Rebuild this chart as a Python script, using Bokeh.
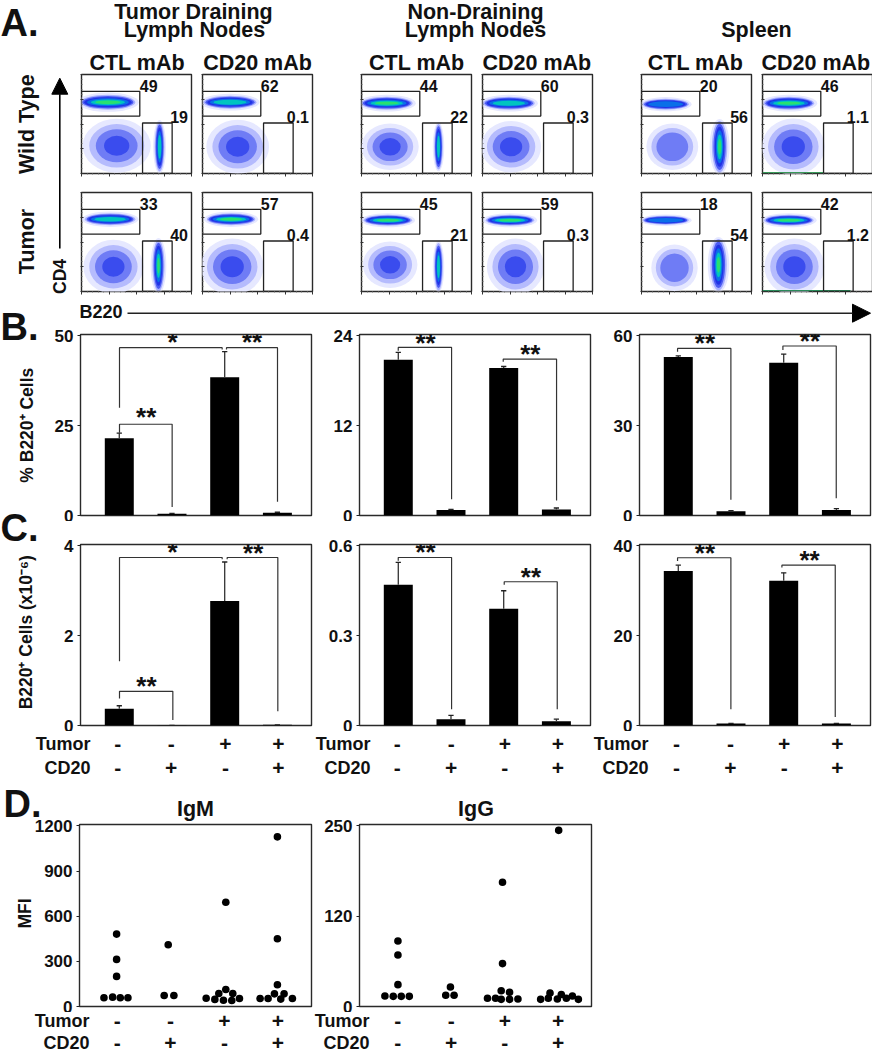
from math import pi
from bokeh.plotting import figure
from bokeh.models import Range1d, FixedTicker, Arrow, NormalHead
from bokeh.core.properties import value
from bokeh.embed import file_html
from bokeh.resources import INLINE

FONT = "Liberation Sans"
INK = "#111111"

# ---------- flow cytometry: percentages and estimated population shapes (axis units 0-100) ----------
gate_upper_pct = [49, 62, 33, 57, 44, 60, 45, 59, 20, 46, 18, 42]
gate_lower_pct = ["19", "0.1", "40", "0.4", "22", "0.3", "21", "0.3", "56", "1.1", "54", "1.2"]
# cx, cy, width, height, deepest colour level
band = [(24, 72, 50, 15, 6), (25, 72, 48, 13, 5), (26, 73, 46, 12, 5), (26, 73, 44, 12, 6),
        (23, 71, 47, 13, 6), (24, 71, 47, 13, 5), (24, 72, 44, 11, 6), (25, 72, 44, 11, 6),
        (22, 70, 42, 11, 4), (24, 71, 46, 13, 6), (22, 72, 42, 9, 4), (24, 72, 45, 11, 6)]
blob = [(32, 28, 50, 44, 3), (32, 27, 46, 44, 3), (29, 25, 44, 44, 3), (27, 25, 46, 46, 3),
        (26, 27, 42, 38, 3), (26, 27, 44, 42, 3), (26, 27, 40, 38, 3), (30, 25, 42, 46, 3),
        (28, 27, 38, 38, 2), (28, 27, 46, 46, 3), (30, 24, 34, 38, 2), (29, 25, 44, 46, 3)]
bcell = [(71, 27, 9, 50, 5), None, (70, 26, 11, 52, 6), None,
         (70, 27, 8, 46, 5), None, (70, 25, 8, 48, 5), None,
         (71, 27, 14, 52, 6), None, (70, 27, 15, 52, 6), None]
# green edge seen along the bottom axis of two spleen panels: panel index, last x
edge_panels = [(9, 55), (11, 80)]
edge_colors = ["#3a9a5a", "#2a8a5a"]
band_scale_x = [1.12, 1.0, 0.93, 0.86, 0.76, 0.62, 0.46]
band_scale_y = [1.3, 1.0, 0.84, 0.68, 0.52, 0.38, 0.24]
blob_scale_x = [1.24, 1.0, 0.76, 0.46]
blob_scale_y = [1.24, 1.0, 0.76, 0.46]
cell_scale_x = [1.3, 1.0, 0.8, 0.62, 0.48, 0.34, 0.2]
cell_scale_y = [1.08, 1.0, 0.9, 0.78, 0.64, 0.48, 0.3]
level_color = ["#e6e8ff", "#a9b1ff", "#4c5bf2", "#1f33e6", "#0a6fe8", "#00c4c0", "#28e070"]
blob_color = ["#e6e8ff", "#b5bbfd", "#6f7cf5", "#3a4cee"]
gate_x0 = [0, 55.5]
gate_x1 = [53, 82.4]
gate_y0 = [58, 0]
gate_y1 = [83, 51]

# ---------- bars ----------
conditions = [1, 2, 3, 4]
tumor_signs = ["-", "-", "+", "+"]
cd20_signs = ["-", "+", "-", "+"]
pct_dln = [21.5, 0.5, 38.5, 0.8]
pct_dln_err = [1.4, 0.1, 7.1, 0.1]
pct_ndln = [20.8, 0.75, 19.7, 0.8]
pct_ndln_err = [1.0, 0.05, 0.2, 0.2]
pct_spl = [52.9, 1.4, 51.0, 1.8]
pct_spl_err = [0.4, 0.2, 2.9, 0.5]
num_dln = [0.375, 0.005, 2.77, 0.015]
num_dln_err = [0.065, 0.0, 0.87, 0.0]
num_ndln = [0.47, 0.021, 0.39, 0.014]
num_ndln_err = [0.075, 0.013, 0.06, 0.007]
num_spl = [34.4, 0.44, 32.2, 0.44]
num_spl_err = [1.3, 0.05, 1.8, 0.05]
# x0, x1, top, left leg end, right leg end
br_pct_dln = [(1.004, 2.003, 25.4, 23.0, 2.4), (1.004, 2.952, 46.7, 30.0, 46.2), (3.034, 4.002, 46.7, 46.2, 3.8)]
br_pct_ndln = [(0.999, 2.011, 22.45, 22.0, 2.16), (2.991, 4.003, 20.9, 20.55, 2.0)]
br_pct_spl = [(0.986, 1.998, 55.8, 54.7, 5.3), (2.985, 3.997, 56.6, 55.3, 5.8)]
br_num_dln = [(1.004, 2.016, 0.76, 0.6, 0.12), (1.004, 2.952, 3.74, 1.43, 3.7), (3.047, 4.008, 3.74, 3.7, 0.32)]
br_num_ndln = [(0.999, 2.011, 0.561, 0.55, 0.054), (3.01, 4.016, 0.48, 0.47, 0.054)]
br_num_spl = [(0.986, 1.998, 37.35, 36.6, 3.6), (2.966, 3.978, 35.7, 35.15, 1.9)]
# x, y, text
st_pct_dln = [(1.51, 27.4, "**"), (2.01, 48.3, "*"), (3.52, 48.2, "**")]
st_pct_ndln = [(1.517, 23.1, "**"), (3.504, 21.6, "**")]
st_pct_spl = [(1.505, 57.5, "**"), (3.497, 58.2, "**")]
st_num_dln = [(1.516, 0.89, "**"), (2.01, 3.87, "*"), (3.54, 3.85, "**")]
st_num_ndln = [(1.517, 0.578, "**"), (3.516, 0.497, "**")]
st_num_spl = [(1.505, 38.5, "**"), (3.49, 36.8, "**")]

# ---------- MFI dots ----------
igm_x = [0.965, 0.965, 0.965, 0.726, 0.89, 1.034, 1.179, 1.94, 1.864, 2.047,
         3.028, 3.028, 2.896, 3.16, 2.657, 2.821, 2.984, 3.141, 3.286,
         4.003, 4.003, 4.003, 3.947, 4.129, 3.676, 3.827, 4.066, 4.286]
igm_y = [481, 313, 200, 58, 62, 58, 58, 410, 73, 73,
         692, 113, 86, 86, 55, 47, 42, 40, 53,
         1127, 450, 144, 84, 84, 53, 53, 49, 53]
igg_x = [0.99, 0.99, 0.99, 0.744, 0.902, 1.053, 1.205, 1.982, 1.893, 2.051,
         2.966, 2.966, 2.941, 3.099, 2.682, 2.834, 2.941, 3.099, 3.257,
         4.027, 3.863, 4.077, 4.286, 3.686, 3.831, 4.002, 4.172, 4.399]
igg_y = [87, 68.5, 29, 14, 13.5, 13.5, 13.5, 26, 15, 15,
         165, 57, 21, 19, 11, 11, 9.5, 9.5, 10,
         234, 18, 16, 14, 9.5, 11, 10, 11, 9.5]

X_RANGE = (0.264, 4.647)
TOP_PAD = 1.0074


def place(p, left, top):
    p.styles = {"position": "absolute", "left": f"{left}px", "top": f"{top}px"}
    return p


def base_fig(l, t, r, b, xr, yr, bl, br_, bt, bb):
    p = figure(width=r - l + bl + br_, height=b - t + bt + bb, x_range=Range1d(*xr), y_range=Range1d(*yr),
               toolbar_location=None, output_backend="svg", min_border_left=bl, min_border_right=br_,
               min_border_top=bt, min_border_bottom=bb, background_fill_alpha=0, border_fill_alpha=0)
    p.grid.visible = False
    p.outline_line_color = "#2a2a2a"
    p.outline_line_width = 1.4
    place(p, l - bl, t - bt)
    return p


def draw_population(p, pop, sx, sy, colors):
    cx, cy, w, h, peak = pop
    for k in range(min(peak + 1, len(colors))):
        p.ellipse(x=[cx], y=[cy], width=[w * sx[k]], height=[h * sy[k]], fill_color=colors[k], line_color=None)


def flow_panel(l, t, idx):
    p = base_fig(l, t, l + 110, t + 99, (0, 100), (0, 100), 8, 4, 4, 10)
    draw_population(p, blob[idx], blob_scale_x, blob_scale_y, blob_color)
    if bcell[idx] is not None:
        draw_population(p, bcell[idx], cell_scale_x, cell_scale_y, level_color)
    draw_population(p, band[idx], band_scale_x, band_scale_y, level_color)
    for (panel_no, end_x), color in zip(edge_panels, edge_colors):
        if panel_no == idx:
            p.segment(x0=[0], x1=[end_x], y0=[0.8], y1=[0.8], line_color=color, line_width=1.2)
    p.quad(left=gate_x0, right=gate_x1, bottom=gate_y0, top=gate_y1, fill_color=None,
           line_color="#222222", line_width=1.3)
    p.text(x=[53], y=[88], text=[str(gate_upper_pct[idx])], text_font=value(FONT), text_font_style="bold",
           text_font_size="16px", text_baseline="middle", text_align="left", text_color=INK)
    p.text(x=[96.8], y=[57.5], text=[gate_lower_pct[idx]], text_font=value(FONT), text_font_style="bold",
           text_font_size="16px", text_baseline="middle", text_align="right", text_color=INK)
    ticks = [0, 25, 50, 75, 100]
    for ax in (p.xaxis[0], p.yaxis[0]):
        ax.ticker = FixedTicker(ticks=ticks, minor_ticks=[5, 10, 15, 20, 30, 35, 40, 45, 55, 60, 65, 70, 80, 85, 90, 95])
        ax.major_label_overrides = {t: "" for t in ticks}
        ax.major_label_text_font_size = "1px"
        ax.major_label_standoff = 0
        ax.axis_line_color = None
        ax.major_tick_line_color = "#333333"
        ax.minor_tick_line_color = "#777777"
    p.xaxis.major_tick_in = 0
    p.xaxis.major_tick_out = 3
    p.xaxis.minor_tick_in = 0
    p.xaxis.minor_tick_out = 1
    p.yaxis.major_tick_in = 2
    p.yaxis.major_tick_out = 1
    p.yaxis.minor_tick_in = 1
    p.yaxis.minor_tick_out = 0
    return p


def style_value_axis(p, ticks, labels=None):
    ax = p.yaxis[0]
    ax.ticker = FixedTicker(ticks=ticks)
    ax.minor_tick_line_color = None
    ax.axis_line_color = None
    ax.major_tick_in = 0
    ax.major_tick_out = 3
    ax.major_tick_line_color = "#222222"
    ax.major_label_text_font = FONT
    ax.major_label_text_font_style = "bold"
    ax.major_label_text_font_size = "17px"
    ax.major_label_text_color = INK
    ax.major_label_standoff = 4
    ax.major_label_overrides = labels or {t: f"{t:g}" for t in ticks}
    p.xaxis.visible = False


def bar_panel(l, t, vals, errs, brackets, stars, ymax, ticks):
    p = base_fig(l, t, l + 231, t + 181, X_RANGE, (0, ymax * TOP_PAD), 62, 4, 6, 6)
    p.vbar(x=conditions, top=vals, width=0.55, fill_color="#000000", line_color=None)
    tops = [v + e for v, e in zip(vals, errs)]
    p.segment(x0=conditions, x1=conditions, y0=vals, y1=tops, line_color="#333333", line_width=1.3)
    p.segment(x0=[c - 0.05 for c in conditions], x1=[c + 0.05 for c in conditions], y0=tops, y1=tops,
              line_color="#222222", line_width=1.3)
    for x0, x1, top, yl, yr in brackets:
        p.line(x=[x0, x0, x1, x1], y=[yl, top, top, yr], line_color="#333333", line_width=1.2)
    p.text(x=[s[0] for s in stars], y=[s[1] for s in stars], text=[s[2] for s in stars], text_font=value(FONT),
           text_font_style="bold", text_font_size="26px", text_align="center", text_baseline="alphabetic",
           y_offset=0, text_color=INK)
    style_value_axis(p, ticks)
    return p


def dot_panel(l, t, xs, ys, ymax, ticks, labels=None):
    p = base_fig(l, t, l + 232, t + 182, X_RANGE, (0, ymax * TOP_PAD), 62, 4, 6, 6)
    p.scatter(x=xs, y=ys, size=7.6, fill_color="#000000", line_color=None)
    style_value_axis(p, ticks, labels)
    return p


# ---------- canvas with the free-standing labels ----------
canvas = figure(width=872, height=1050, x_range=Range1d(0, 872), y_range=Range1d(1050, 0), x_axis_type=None,
                y_axis_type=None, toolbar_location=None, output_backend="svg", min_border=0)
canvas.grid.visible = False
canvas.outline_line_color = None
place(canvas, 0, 0)


def label(x, y, s, size=21.5, align="center", angle=0.0):
    canvas.text(x=[x], y=[y], text=[s], text_font=value(FONT), text_font_style="bold", text_font_size=f"{size}px",
                text_align=align, text_baseline="middle", angle=angle, text_color=INK)


for x, y, s in [(0, 22, "A."), (0, 326, "B."), (0, 527, "C."), (3, 803, "D.")]:
    label(x, y, s, size=38, align="left")
for x, y, s in [(193, 11.5, "Tumor Draining"), (194, 29, "Lymph Nodes"), (475, 11.5, "Non-Draining"),
                (475, 29, "Lymph Nodes"), (756, 29, "Spleen"), (195, 808, "IgM"), (475.5, 808, "IgG")]:
    label(x, y, s)
for x, s in [(136.7, "CTL mAb"), (257, "CD20 mAb"), (416.3, "CTL mAb"), (536.3, "CD20 mAb"), (695, "CTL mAb"),
             (815.3, "CD20 mAb")]:
    label(x, 62.5, s)
label(26, 123.7, "Wild Type", angle=pi / 2)
label(26, 241, "Tumor", angle=pi / 2)
label(59, 276, "CD4", size=17.5, angle=pi / 2)
label(79, 311, "B220", size=18, align="left")
label(26, 424.7, "% B220\u207a Cells", size=17.5, angle=pi / 2)
label(25, 631.7, "B220\u207a Cells (x10\u207b\u2076)", size=17.5, angle=pi / 2)
label(24, 913, "MFI", size=17.5, angle=pi / 2)

canvas.add_layout(Arrow(end=NormalHead(size=16, fill_color="#000000", line_color="#000000"), x_start=59.3, y_start=248,
                        x_end=59.3, y_end=77.7, line_width=1.6, line_color="#000000"))
canvas.add_layout(Arrow(end=NormalHead(size=18, fill_color="#000000", line_color="#000000"), x_start=127, y_start=312.7,
                        x_end=870, y_end=312.7, line_width=1.6, line_color="#222222"))

sign_cols = [(90, [117.3, 170.7, 225, 278]), (370, [396.7, 450.7, 504.3, 557.3]), (648, [676, 730, 783.7, 837])]
for right, xs in sign_cols:
    label(right, 743, "Tumor", size=18, align="right")
    label(right, 767, "CD20", size=18, align="right")
    for x, a, b in zip(xs, tumor_signs, cd20_signs):
        label(x, 743, a, size=21)
        label(x, 767, b, size=21)
for right, xs in [(89, [116.7, 170, 224, 277.3]), (369, [397.3, 450.7, 504.3, 557.7])]:
    label(right, 1020, "Tumor", size=18, align="right")
    label(right, 1042, "CD20", size=18, align="right")
    for x, a, b in zip(xs, tumor_signs, cd20_signs):
        label(x, 1020, a, size=21)
        label(x, 1042, b, size=21)

# ---------- panels ----------
flow_lefts = [81, 202, 361, 482, 641, 762]
roots = [canvas]
for organ_i in range(3):
    for row_i, top in enumerate([74, 192]):
        for mab_i in range(2):
            idx = organ_i * 4 + row_i * 2 + mab_i
            roots.append(flow_panel(flow_lefts[organ_i * 2 + mab_i], top, idx))

roots += [
    bar_panel(80, 334, pct_dln, pct_dln_err, br_pct_dln, st_pct_dln, 50, [0, 25, 50]),
    bar_panel(359, 334, pct_ndln, pct_ndln_err, br_pct_ndln, st_pct_ndln, 24, [0, 12, 24]),
    bar_panel(639, 334, pct_spl, pct_spl_err, br_pct_spl, st_pct_spl, 60, [0, 30, 60]),
    bar_panel(80, 544, num_dln, num_dln_err, br_num_dln, st_num_dln, 4, [0, 2, 4]),
    bar_panel(359, 544, num_ndln, num_ndln_err, br_num_ndln, st_num_ndln, 0.6, [0, 0.3, 0.6]),
    bar_panel(639, 544, num_spl, num_spl_err, br_num_spl, st_num_spl, 40, [0, 20, 40]),
    dot_panel(79, 824, igm_x, igm_y, 1200, [0, 300, 600, 900, 1200]),
    dot_panel(359, 824, igg_x, igg_y, 240, [0, 120, 240], {0: "0", 120: "120", 240: "250"}),
]

open("out.html", "w").write(file_html(roots, INLINE))
